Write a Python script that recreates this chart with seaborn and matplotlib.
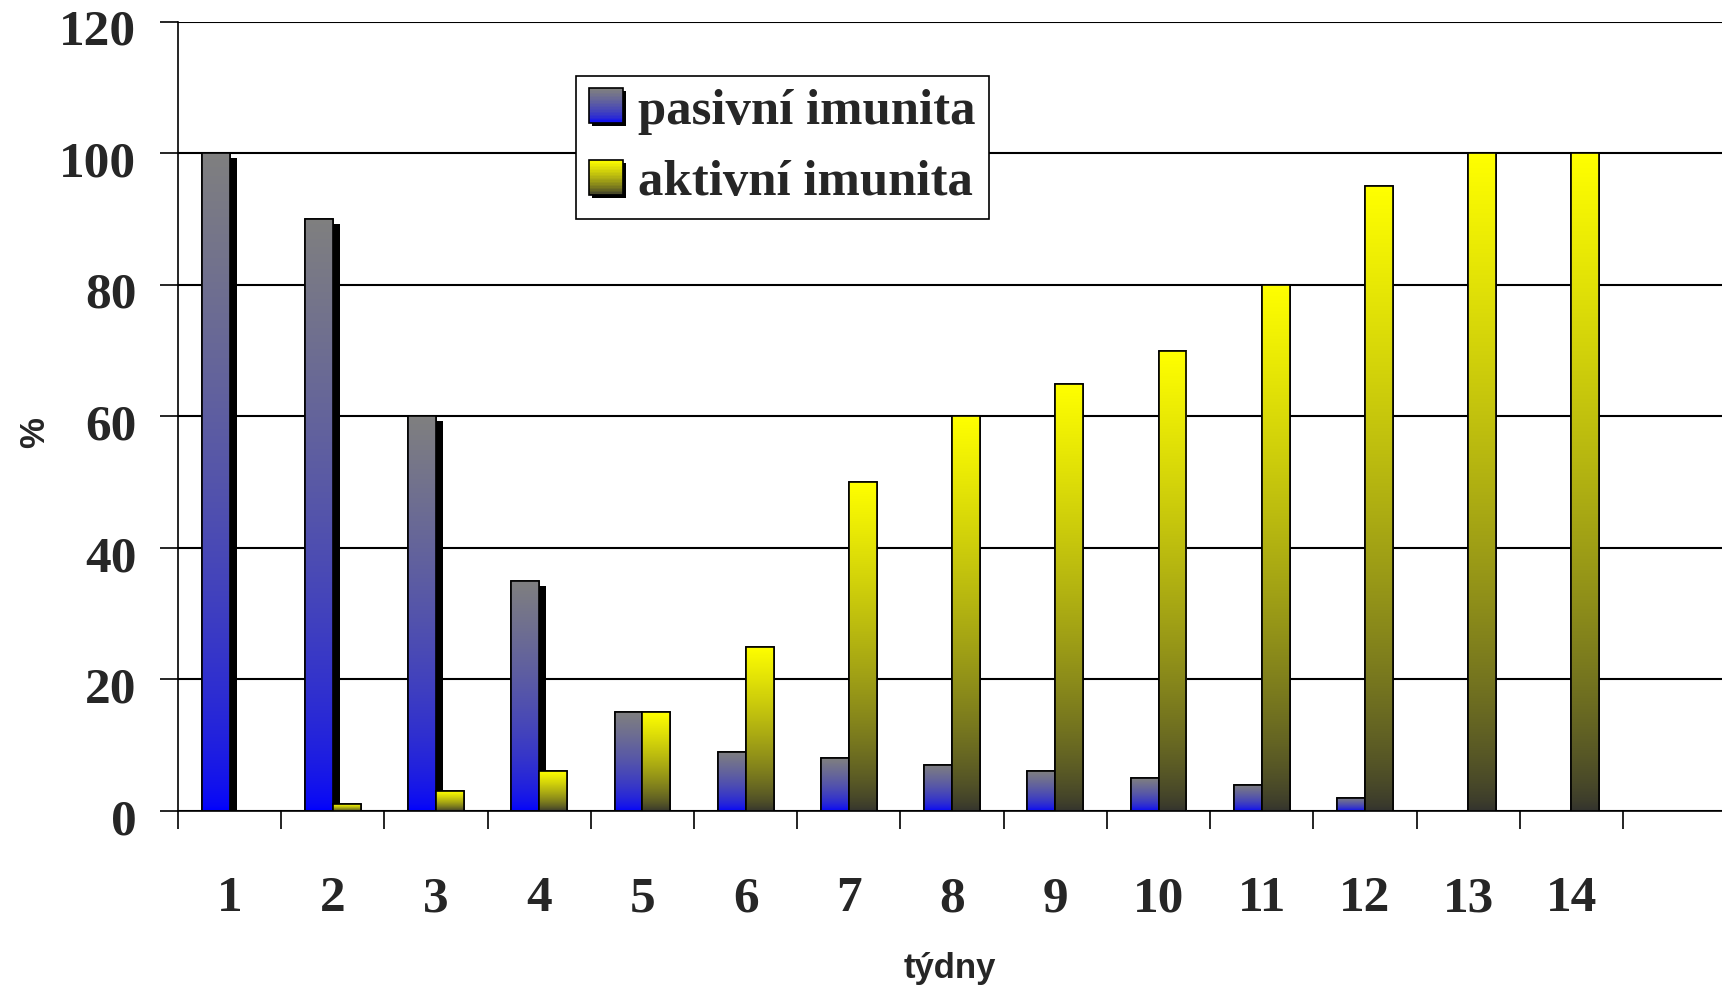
import numpy as np
import pandas as pd
import seaborn as sns
import matplotlib.pyplot as plt
import matplotlib.patheffects as pe
from matplotlib.patches import Rectangle, Patch
from matplotlib.legend_handler import HandlerBase
from matplotlib.transforms import ScaledTranslation

# data
tydny = ['1', '2', '3', '4', '5', '6', '7', '8', '9', '10', '11', '12', '13', '14']
pasivni = [100, 90, 60, 35, 15, 9, 8, 7, 6, 5, 4, 2, 0, 0]
aktivni = [0, 1, 3, 6, 15, 25, 50, 60, 65, 70, 80, 95, 100, 100]
serie = ['pasivní imunita', 'aktivní imunita']

# gradient end colours (top, bottom) of each series
grad_pas = ((0.50, 0.50, 0.50), (0.0, 0.0, 1.0))
grad_akt = ((1.0, 1.0, 0.0), (0.20, 0.20, 0.18))

df = pd.DataFrame({
    'týdny': tydny * 2,
    'procent': pasivni + aktivni,
    'imunita': [serie[0]] * len(tydny) + [serie[1]] * len(tydny),
})

sns.set_style('white')
plt.rcParams['font.family'] = ['Liberation Serif', 'DejaVu Serif']


def gradient(top, bottom, n=256, gamma=1.0):
    t = np.linspace(0, 1, n) ** gamma
    top = np.array(top)
    bottom = np.array(bottom)
    return (bottom + (top - bottom) * t[:, None])[:, None, :]


class GradientHandler(HandlerBase):
    def __init__(self, top, bottom, gamma=1.0):
        super().__init__()
        self.top, self.bottom, self.gamma = top, bottom, gamma

    def create_artists(self, legend, orig_handle, xdescent, ydescent,
                       width, height, fontsize, trans):
        out = []
        out.append(Rectangle((-xdescent + 2, -ydescent - 2), width, height,
                             facecolor='black', edgecolor='none', transform=trans))
        cols = gradient(self.top, self.bottom, 24, self.gamma)[:, 0, :]
        n = len(cols)
        for i, c in enumerate(cols):
            out.append(Rectangle((-xdescent, -ydescent + height * i / n), width,
                                 height / n + 0.3, facecolor=c, edgecolor='none',
                                 transform=trans))
        out.append(Rectangle((-xdescent, -ydescent), width, height, fill=False,
                             edgecolor='black', lw=1.2, transform=trans))
        return out


fig = plt.figure(figsize=(17.22, 9.88), dpi=100)
ax = fig.add_axes([0.1034, 0.1792, 0.8966, 0.7986])

sns.barplot(data=df, x='týdny', y='procent', hue='imunita', hue_order=serie,
            palette=['#0000ff', '#ffff00'], saturation=1, width=0.54,
            edgecolor='black', linewidth=1.2, legend=False, ax=ax)

gammas = [0.6, 0.7]

# gradient fill + outline for every bar, pasivni gets a black drop shadow
for k, (cont, (top, bottom), gam) in enumerate(zip(ax.containers, [grad_pas, grad_akt], gammas)):
    z = 2 + k * 0.5
    for p in cont:
        x0, w, h = p.get_x(), p.get_width(), p.get_height()
        p.set_zorder(z)
        if h <= 0:
            continue
        if k == 0:
            p.set_path_effects([pe.SimplePatchShadow(offset=(5, -3.5), shadow_rgbFace='black', alpha=1),
                                pe.Normal()])
        im = ax.imshow(gradient(top, bottom, gamma=gam), extent=[x0, x0 + w, 0, h],
                       origin='lower', aspect='auto', interpolation='bilinear', zorder=z + 0.1)
        im.set_clip_path(p)
        ax.add_patch(Rectangle((x0, 0), w, h, fill=False, edgecolor='black', lw=1.2, zorder=z + 0.2))

ax.set_xlim(-0.5, 14.46)
ax.set_ylim(0, 120)

ax.set_yticks(range(0, 121, 20))
ax.set_xticks(range(len(tydny)))
ax.set_xticklabels(tydny)
ax.set_xticks(np.arange(-0.5, len(tydny), 1), minor=True)
ax.tick_params(axis='x', which='major', length=0, pad=47)
ax.tick_params(axis='x', which='minor', length=13, width=1.2, color='black', direction='out', bottom=True)
ax.tick_params(axis='y', length=13, width=1.2, color='black', direction='out', left=True, pad=17)
for lab in ax.get_xticklabels() + ax.get_yticklabels():
    lab.set_fontfamily('Liberation Serif')
    lab.set_fontweight('bold')
    lab.set_fontsize(37)

ax.yaxis.grid(True, color='black', lw=1.5)
ax.set_axisbelow(True)
for s in ['top', 'right']:
    ax.spines[s].set_visible(False)
for s in ['left', 'bottom']:
    ax.spines[s].set_color('black')
    ax.spines[s].set_linewidth(1.2)

ax.set_xlabel('týdny', fontfamily='Liberation Sans', fontweight='bold', fontsize=25)
ax.set_ylabel('%', fontfamily='Liberation Sans', fontweight='bold', fontsize=25)
ax.xaxis.set_label_coords(0.5, -0.179)
ax.yaxis.set_label_coords(-0.082, 0.479)

h1, h2 = Patch(), Patch()
leg = ax.legend([h1, h2], serie, loc='upper left', bbox_to_anchor=(0.2578, 0.932),
                borderaxespad=0, frameon=True, fancybox=False, framealpha=1,
                handler_map={h1: GradientHandler(*grad_pas, gamma=gammas[0]),
                             h2: GradientHandler(*grad_akt, gamma=gammas[1])},
                prop=dict(family='Liberation Serif', weight='bold', size=36.5),
                handlelength=0.67, handleheight=0.69, handletextpad=0.31,
                borderpad=0.25, labelspacing=0.5)
leg.get_frame().set_edgecolor('black')
leg.get_frame().set_linewidth(1.2)
leg.set_zorder(10)

# y labels sit a little below their gridlines in the original
shift = ScaledTranslation(0, -4 / 72, fig.dpi_scale_trans)
for t in ax.yaxis.get_major_ticks():
    t.label1.set_transform(t.label1.get_transform() + shift)

plt.savefig('out.png', dpi=100)
